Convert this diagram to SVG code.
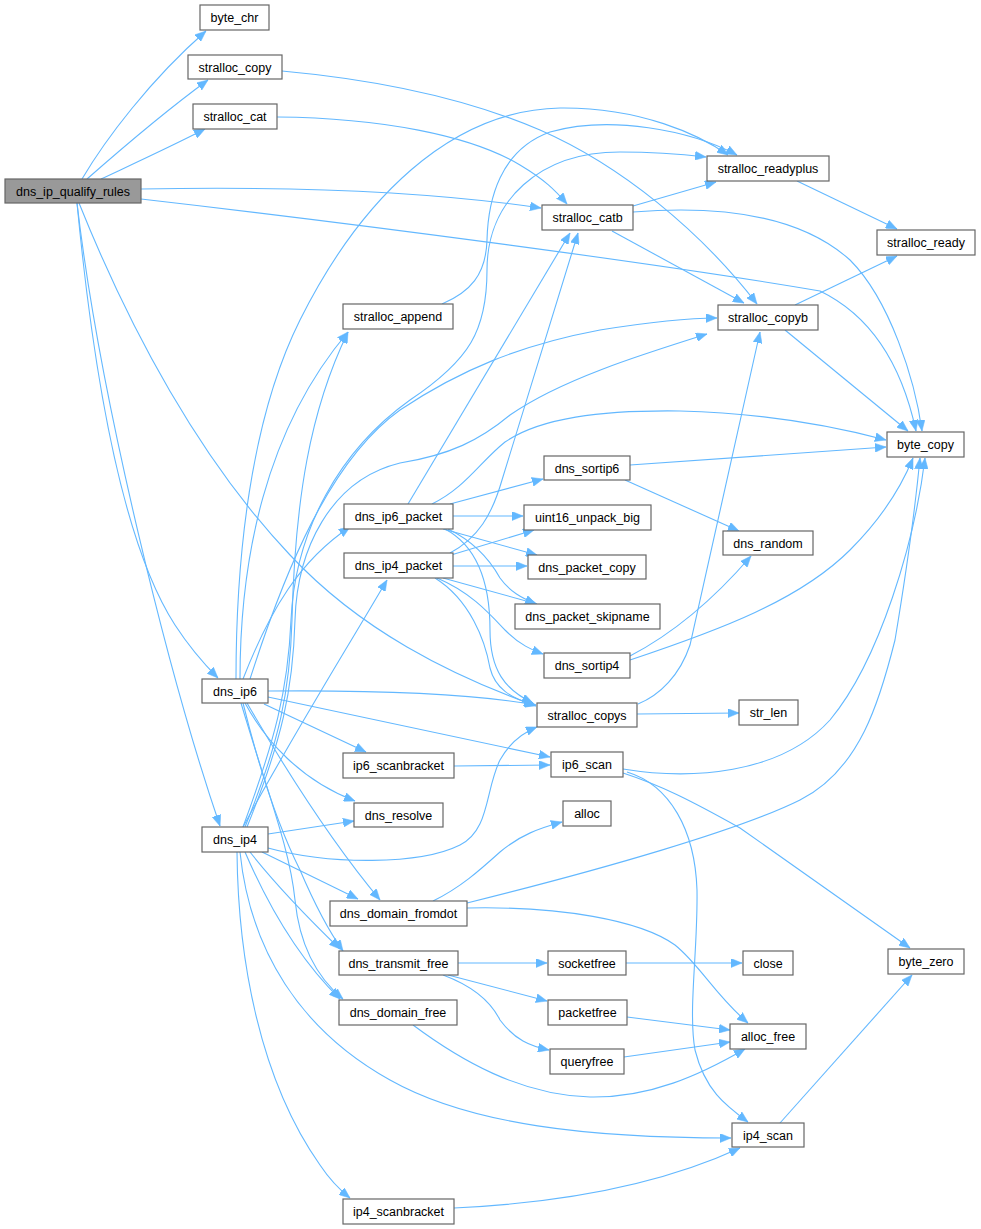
<svg xmlns="http://www.w3.org/2000/svg" width="981" height="1229" viewBox="0 0 981 1229">
<style>
.n rect{fill:#fff;stroke:#666;stroke-width:1.2}
.r rect{fill:#999}
.n text{font-family:"Liberation Sans",Arial,sans-serif;font-size:12.5px;text-anchor:middle;fill:#000}
.e path{fill:none;stroke:#63b8ff;stroke-width:1.1;marker-end:url(#a)}
</style>
<defs>
<marker id="a" markerUnits="userSpaceOnUse" markerWidth="11" markerHeight="9" viewBox="0 0 11 9" refX="11" refY="4.5" orient="auto">
<path d="M0,0 L11,4.5 L0,9 z" fill="#63b8ff" stroke="#63b8ff" stroke-width="0.5"/>
</marker>
</defs>
<rect width="981" height="1229" fill="#fff"/>
<g id="edges" class="e">
<path d="M82,179 C105,140 150,80 206,31"/>
<path d="M87,179 C120,150 160,115 208,80"/>
<path d="M101,179 C135,163 170,147 205,129"/>
<path d="M141,189 C300,186 440,193 541,208"/>
<path d="M141,199 C350,223 650,262 820,291 C880,320 905,380 916,431"/>
<path d="M77,203 C92,360 120,540 175,625 C190,648 205,665 218,678"/>
<path d="M77,203 C100,400 170,680 220,826"/>
<path d="M79,203 C130,330 200,460 290,555 C360,630 450,675 536,706"/>
<path d="M282,71 C380,80 470,100 540,130 C620,165 700,230 757,304"/>
<path d="M277,117 C380,118 470,135 520,165 C545,180 555,190 567,204"/>
<path d="M633,206 L716,182"/>
<path d="M633,212 C720,205 800,215 850,260 C890,300 915,380 922,431"/>
<path d="M612,231 L744,303"/>
<path d="M797,181 L897,229"/>
<path d="M795,305 L897,256"/>
<path d="M785,330 L908,431"/>
<path d="M442,304 C470,292 486,275 487,240 C488,200 500,150 550,132 C610,115 690,130 737,155"/>
<path d="M236,679 C236,560 250,420 300,320 C360,200 450,110 560,108 C640,107 700,135 728,155"/>
<path d="M243,827 C275,740 288,690 291,620 C295,530 340,450 410,400 C470,360 487,330 487,270 C487,200 540,152 620,152 C650,152 680,154 706,157"/>
<path d="M240,679 C240,560 265,430 348,332"/>
<path d="M245,827 C280,740 290,690 292,620 C295,500 310,410 348,332"/>
<path d="M250,679 C285,570 330,460 400,410 C460,370 520,345 600,330 C650,322 690,318 717,318"/>
<path d="M247,827 C282,740 293,690 295,620 C297,550 330,480 400,463 C450,455 480,440 510,415 C560,380 640,355 707,334"/>
<path d="M243,679 C270,610 300,560 350,527"/>
<path d="M243,827 C290,740 340,660 387,580"/>
<path d="M268,691 C380,690 470,693 536,705"/>
<path d="M268,697 L550,757"/>
<path d="M264,704 L366,752"/>
<path d="M245,703 C265,740 300,780 355,801"/>
<path d="M247,703 C280,760 330,840 380,900"/>
<path d="M243,703 C262,780 280,830 300,870 C315,905 328,930 343,951"/>
<path d="M241,703 C270,800 290,850 295,900 C300,950 320,980 343,999"/>
<path d="M268,834 L354,821"/>
<path d="M268,848 C330,865 420,865 460,845 C490,830 485,790 500,760 C510,742 522,733 537,727"/>
<path d="M262,852 L358,899"/>
<path d="M250,852 C280,890 310,920 340,949"/>
<path d="M245,852 C270,910 300,960 340,999"/>
<path d="M240,852 C250,950 300,1030 390,1080 C470,1125 590,1138 731,1138"/>
<path d="M237,852 C238,960 260,1080 320,1165 C330,1180 340,1190 350,1198"/>
<path d="M450,504 L543,479"/>
<path d="M432,504 C465,488 480,462 505,442 C540,418 600,410 680,411 C760,413 830,425 886,440"/>
<path d="M453,516 L523,516"/>
<path d="M443,529 L537,555"/>
<path d="M448,529 C475,542 490,560 500,578 C510,592 522,598 536,604"/>
<path d="M445,529 C475,545 490,580 490,630 C490,670 505,690 533,703"/>
<path d="M408,504 L570,233"/>
<path d="M450,553 C478,538 492,515 502,480 L578,233"/>
<path d="M451,555 L534,530"/>
<path d="M453,566 L527,566"/>
<path d="M443,578 L537,604"/>
<path d="M437,578 C470,592 488,612 505,630 C520,645 532,650 543,654"/>
<path d="M435,578 C470,600 485,640 490,668 C495,688 510,698 535,705"/>
<path d="M630,465 L886,447"/>
<path d="M625,480 L739,531"/>
<path d="M630,656 C680,630 720,592 751,556"/>
<path d="M630,660 C720,630 800,600 850,550 C880,520 900,490 913,458"/>
<path d="M638,704 C660,695 680,675 690,645 L760,332"/>
<path d="M637,714 L739,713"/>
<path d="M454,766 L550,765"/>
<path d="M623,769 C690,780 780,775 830,720 C880,660 915,540 925,458"/>
<path d="M623,773 C660,785 690,800 740,828 L910,948"/>
<path d="M627,772 C670,785 695,830 697,890 C698,950 688,1010 695,1050 C705,1090 725,1105 748,1122"/>
<path d="M433,901 C460,888 480,870 500,852 C520,835 540,828 562,822"/>
<path d="M467,903 C600,870 740,830 800,800 C860,770 880,700 895,640 C905,580 915,510 920,458"/>
<path d="M467,908 C560,906 640,920 675,945 C700,965 715,995 748,1023"/>
<path d="M458,963 L547,963"/>
<path d="M448,975 L547,1001"/>
<path d="M443,975 C470,985 490,1000 500,1020 C515,1040 530,1046 549,1050"/>
<path d="M626,963 L742,963"/>
<path d="M627,1017 L730,1030"/>
<path d="M624,1057 L730,1042"/>
<path d="M413,1025 C460,1060 520,1095 590,1097 C650,1098 700,1075 745,1049"/>
<path d="M780,1123 L912,975"/>
<path d="M454,1208 C560,1203 660,1185 740,1148"/>
</g>
<g id="n_root" class="n r"><rect x="5" y="179" width="136" height="24"/><text x="73" y="195.5">dns_ip_qualify_rules</text></g>
<g id="n_byte_chr" class="n"><rect x="200" y="5" width="69" height="25"/><text x="234.5" y="22">byte_chr</text></g>
<g id="n_stralloc_copy" class="n"><rect x="188" y="55" width="94" height="24"/><text x="235" y="71.5">stralloc_copy</text></g>
<g id="n_stralloc_cat" class="n"><rect x="193" y="104" width="84" height="25"/><text x="235" y="121">stralloc_cat</text></g>
<g id="n_stralloc_readyplus" class="n"><rect x="707" y="156" width="122" height="25"/><text x="768" y="173">stralloc_readyplus</text></g>
<g id="n_stralloc_catb" class="n"><rect x="542" y="205" width="91" height="25"/><text x="587.5" y="222">stralloc_catb</text></g>
<g id="n_stralloc_ready" class="n"><rect x="877" y="230" width="98" height="25"/><text x="926" y="247">stralloc_ready</text></g>
<g id="n_stralloc_append" class="n"><rect x="343" y="304" width="110" height="25"/><text x="398" y="321">stralloc_append</text></g>
<g id="n_stralloc_copyb" class="n"><rect x="718" y="305" width="100" height="25"/><text x="768" y="322">stralloc_copyb</text></g>
<g id="n_byte_copy" class="n"><rect x="887" y="432" width="77" height="25"/><text x="925.5" y="449">byte_copy</text></g>
<g id="n_dns_sortip6" class="n"><rect x="544" y="456" width="86" height="24"/><text x="587" y="472.5">dns_sortip6</text></g>
<g id="n_dns_ip6_packet" class="n"><rect x="344" y="504" width="109" height="25"/><text x="398.5" y="521">dns_ip6_packet</text></g>
<g id="n_uint16_unpack_big" class="n"><rect x="524" y="505" width="127" height="25"/><text x="587.5" y="522">uint16_unpack_big</text></g>
<g id="n_dns_random" class="n"><rect x="723" y="531" width="90" height="24"/><text x="768" y="547.5">dns_random</text></g>
<g id="n_dns_ip4_packet" class="n"><rect x="344" y="553" width="109" height="25"/><text x="398.5" y="570">dns_ip4_packet</text></g>
<g id="n_dns_packet_copy" class="n"><rect x="528" y="555" width="118" height="24"/><text x="587" y="571.5">dns_packet_copy</text></g>
<g id="n_dns_packet_skipname" class="n"><rect x="515" y="604" width="145" height="25"/><text x="587.5" y="621">dns_packet_skipname</text></g>
<g id="n_dns_sortip4" class="n"><rect x="544" y="653" width="86" height="25"/><text x="587" y="670">dns_sortip4</text></g>
<g id="n_dns_ip6" class="n"><rect x="202" y="679" width="66" height="24"/><text x="235" y="695.5">dns_ip6</text></g>
<g id="n_stralloc_copys" class="n"><rect x="537" y="703" width="100" height="24"/><text x="587" y="719.5">stralloc_copys</text></g>
<g id="n_str_len" class="n"><rect x="739" y="700" width="59" height="25"/><text x="768.5" y="717">str_len</text></g>
<g id="n_ip6_scanbracket" class="n"><rect x="343" y="753" width="111" height="25"/><text x="398.5" y="770">ip6_scanbracket</text></g>
<g id="n_ip6_scan" class="n"><rect x="551" y="752" width="72" height="25"/><text x="587" y="769">ip6_scan</text></g>
<g id="n_dns_resolve" class="n"><rect x="354" y="803" width="89" height="24"/><text x="398.5" y="819.5">dns_resolve</text></g>
<g id="n_alloc" class="n"><rect x="563" y="801" width="48" height="25"/><text x="587" y="818">alloc</text></g>
<g id="n_dns_ip4" class="n"><rect x="202" y="827" width="66" height="25"/><text x="235" y="844">dns_ip4</text></g>
<g id="n_dns_domain_fromdot" class="n"><rect x="330" y="901" width="137" height="25"/><text x="398.5" y="918">dns_domain_fromdot</text></g>
<g id="n_dns_transmit_free" class="n"><rect x="339" y="951" width="119" height="24"/><text x="398.5" y="967.5">dns_transmit_free</text></g>
<g id="n_socketfree" class="n"><rect x="548" y="951" width="78" height="24"/><text x="587" y="967.5">socketfree</text></g>
<g id="n_close" class="n"><rect x="743" y="951" width="50" height="24"/><text x="768" y="967.5">close</text></g>
<g id="n_byte_zero" class="n"><rect x="888" y="949" width="76" height="25"/><text x="926" y="966">byte_zero</text></g>
<g id="n_dns_domain_free" class="n"><rect x="339" y="1000" width="118" height="25"/><text x="398" y="1017">dns_domain_free</text></g>
<g id="n_packetfree" class="n"><rect x="548" y="1000" width="79" height="25"/><text x="587.5" y="1017">packetfree</text></g>
<g id="n_alloc_free" class="n"><rect x="730" y="1024" width="76" height="25"/><text x="768" y="1041">alloc_free</text></g>
<g id="n_queryfree" class="n"><rect x="550" y="1049" width="74" height="25"/><text x="587" y="1066">queryfree</text></g>
<g id="n_ip4_scan" class="n"><rect x="732" y="1123" width="72" height="24"/><text x="768" y="1139.5">ip4_scan</text></g>
<g id="n_ip4_scanbracket" class="n"><rect x="343" y="1199" width="111" height="25"/><text x="398.5" y="1216">ip4_scanbracket</text></g>
</svg>
